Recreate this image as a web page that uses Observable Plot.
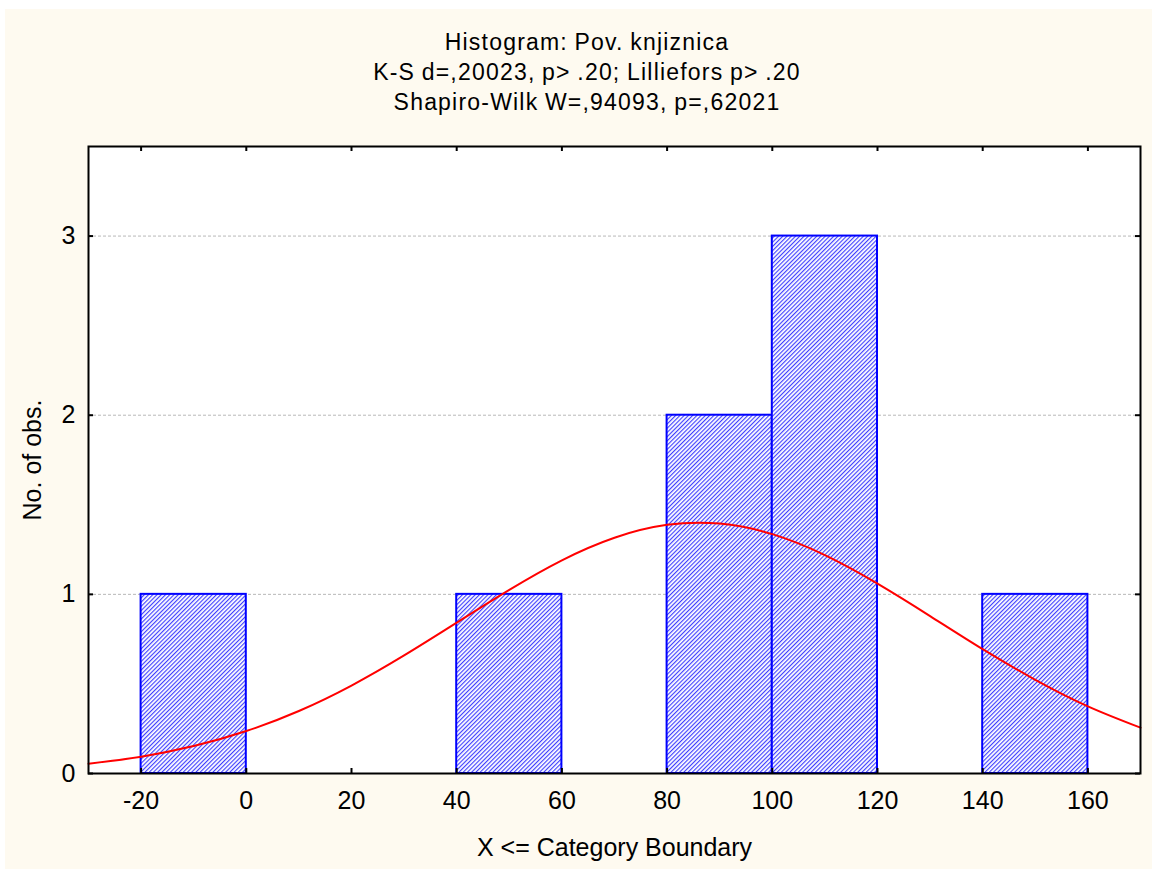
<!DOCTYPE html>
<html>
<head>
<meta charset="utf-8">
<script src="https://cdn.jsdelivr.net/npm/d3@7"></script>
<script src="https://cdn.jsdelivr.net/npm/@observablehq/plot@0.6"></script>
<style>
  html, body { margin: 0; padding: 0; background: #ffffff; }
  #page { position: absolute; left: 0; top: 0; width: 1152px; height: 869px; overflow: hidden; }
  #panel { position: absolute; left: 5px; top: 9px; width: 1147px; height: 860px; background: #fefaf0; }
  #titles { position: absolute; left: 0; top: 27px; width: 1174px; text-align: center;
    font-family: "Liberation Sans", Arial, sans-serif; font-size: 23px; line-height: 30px;
    letter-spacing: 1.2px; word-spacing: -1px; color: #000; }
  #chart { position: absolute; left: 0; top: 0; }
</style>
</head>
<body>
<div id="page">
  <div id="panel"></div>
  <div id="chart"></div>
  <div id="titles"></div>
</div>
<script>
// ---- Data ----
const titleLines = [
  "Histogram: Pov. knjiznica",
  "K-S d=,20023, p> .20; Lilliefors p> .20",
  "Shapiro-Wilk W=,94093, p=,62021"
];
const xLabel = "X <= Category Boundary";
const yLabel = "No. of obs.";

const binLower = [-20, 0, 20, 40, 60, 80, 100, 120, 140];
const binUpper = [0, 20, 40, 60, 80, 100, 120, 140, 160];
const binCounts = [1, 0, 0, 1, 0, 2, 3, 0, 1];

// Expected normal curve
const curveX = [-30, -20, -10, 0, 10, 20, 30, 40, 50, 60, 70, 80, 90, 100, 110, 120, 130, 140, 150, 160, 170];
const curveY = [0.055, 0.094, 0.153, 0.237, 0.349, 0.491, 0.659, 0.842, 1.025, 1.190, 1.316, 1.388, 1.395, 1.336, 1.219, 1.060, 0.879, 0.694, 0.523, 0.375, 0.256];

const xTicks = [-20, 0, 20, 40, 60, 80, 100, 120, 140, 160];
const yTicks = [0, 1, 2, 3];
const gridY = [1, 2, 3];

// ---- Build tables ----
const bins = binLower.map((lo, i) => ({lo, hi: binUpper[i], count: binCounts[i]})).filter(d => d.count > 0);
const curve = curveX.map((x, i) => ({x, y: curveY[i]}));

const W = 1152, H = 869, mL = 88, mR = 12, mT = 146, mB = 96;
const innerW = W - mL - mR, innerH = H - mT - mB;
const tickLen = 5;
const fmt = d => String(d);

const plot = Plot.plot({
  width: W, height: H,
  marginLeft: mL, marginRight: mR, marginTop: mT, marginBottom: mB,
  style: {background: "transparent", fontFamily: "'Liberation Sans', Arial, sans-serif", fontSize: "25px", color: "#000", overflow: "visible"},
  x: {domain: [-30, 170]},
  y: {domain: [0, 3.5]},
  marks: [
    Plot.frame({fill: "#ffffff", stroke: "none"}),
    Plot.ruleY(gridY, {y: d => d, stroke: "#b8b8b8", strokeWidth: 1, strokeDasharray: "3,2"}),
    Plot.rectY(bins, {x1: "lo", x2: "hi", y: "count", fill: "url(#hatch)", stroke: "#0000ff", strokeWidth: 2}),
    Plot.line(curve, {x: "x", y: "y", stroke: "#ff0000", strokeWidth: 2, curve: "natural"}),
    // inward ticks
    Plot.tickX(xTicks, {x: d => d, insetTop: innerH - tickLen, stroke: "#000", strokeWidth: 2}),
    Plot.tickX(xTicks, {x: d => d, insetBottom: innerH - tickLen, stroke: "#000", strokeWidth: 2}),
    Plot.tickY(yTicks, {y: d => d, insetRight: innerW - tickLen, stroke: "#000", strokeWidth: 2}),
    Plot.tickY(yTicks, {y: d => d, insetLeft: innerW - tickLen, stroke: "#000", strokeWidth: 2}),
    Plot.axisX(xTicks, {tickSize: 0, tickPadding: 18, fontSize: 25, tickFormat: fmt, label: xLabel, labelAnchor: "center", labelArrow: "none", labelOffset: 82}),
    Plot.axisY(yTicks, {tickSize: 0, tickPadding: 13, fontSize: 25, tickFormat: fmt, label: yLabel, labelAnchor: "center", labelArrow: "none", labelOffset: 65}),
    Plot.frame({stroke: "#000", strokeWidth: 2})
  ]
});

d3.select(plot).insert("defs", ":first-child").html(
  `<pattern id="hatch" patternUnits="userSpaceOnUse" width="3" height="3" patternTransform="rotate(45)">
     <rect width="3" height="3" fill="#ffffff"></rect>
     <line x1="0.6" y1="0" x2="0.6" y2="3" stroke="#3535ff" stroke-width="1.1"></line>
   </pattern>`
);

document.getElementById("chart").appendChild(plot);
const t = document.getElementById("titles");
titleLines.forEach(s => { const d = document.createElement("div"); d.textContent = s; t.appendChild(d); });
</script>
</body>
</html>
